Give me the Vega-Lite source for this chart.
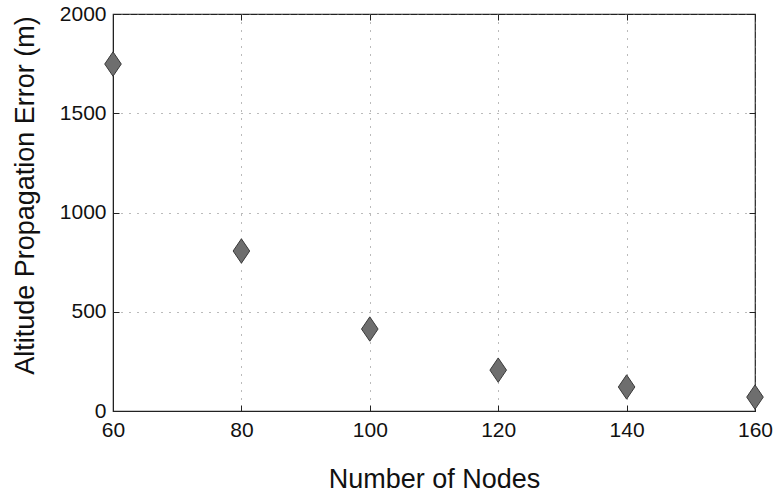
{
  "$schema": "https://vega.github.io/schema/vega-lite/v6.json",
  "autosize": "none",
  "padding": {"left": 113, "top": 14, "right": 21, "bottom": 86},
  "width": 642,
  "height": 397,
  "background": "white",
  "config": {
    "view": {"stroke": "#222", "strokeWidth": 1.2},
    "font": "Liberation Sans",
    "axis": {
      "labelFont": "Liberation Sans",
      "titleFont": "Liberation Sans",
      "labelFontSize": 21,
      "labelColor": "#111",
      "titleColor": "#111",
      "titleFontWeight": "normal",
      "domainColor": "#222",
      "tickColor": "#222",
      "gridColor": "#777",
      "gridDash": [1, 7],
      "gridWidth": 1
    }
  },
  "data": {
    "values": [
      {"nodes": 60, "error": 1748},
      {"nodes": 80, "error": 806},
      {"nodes": 100, "error": 413},
      {"nodes": 120, "error": 206},
      {"nodes": 140, "error": 121},
      {"nodes": 160, "error": 70}
    ]
  },
  "resolve": {"axis": {"x": "independent", "y": "independent"}},
  "layer": [
    {
      "mark": {
        "type": "point",
        "shape": "M0,-1.25L0.85,0L0,1.25L-0.85,0Z",
        "filled": true,
        "size": 380,
        "fill": "#6e6e6e",
        "stroke": "#3a3a3a",
        "strokeWidth": 1,
        "opacity": 1,
        "clip": false
      },
      "encoding": {
        "x": {
          "field": "nodes", "type": "quantitative",
          "scale": {"domain": [60, 160], "nice": false, "zero": false},
          "axis": {
            "title": "Number of Nodes", "values": [60, 80, 100, 120, 140, 160],
            "format": "d", "titleFontSize": 27,
            "grid": true, "tickSize": -6, "labelPadding": 14,
            "titlePadding": 26, "labelFlush": false
          }
        },
        "y": {
          "field": "error", "type": "quantitative",
          "scale": {"domain": [0, 2000], "nice": false},
          "axis": {
            "title": "Altitude Propagation Error (m)", "values": [0, 500, 1000, 1500, 2000],
            "format": "d", "titleFontSize": 27,
            "titleX": -88, "titleY": 181, "titleBaseline": "middle", "titleAngle": -90,
            "grid": true, "tickSize": -6, "labelPadding": 13,
            "labelFlush": false
          }
        }
      }
    },
    {
      "mark": {"type": "point", "opacity": 0},
      "encoding": {
        "x": {
          "field": "nodes", "type": "quantitative",
          "axis": {
            "orient": "top", "title": null, "labels": false, "grid": false,
            "values": [60, 80, 100, 120, 140, 160], "tickSize": -6, "domain": false
          }
        },
        "y": {
          "field": "error", "type": "quantitative",
          "axis": {
            "orient": "right", "title": null, "labels": false, "grid": false,
            "values": [0, 500, 1000, 1500, 2000], "tickSize": -6, "domain": false
          }
        }
      }
    }
  ]
}
